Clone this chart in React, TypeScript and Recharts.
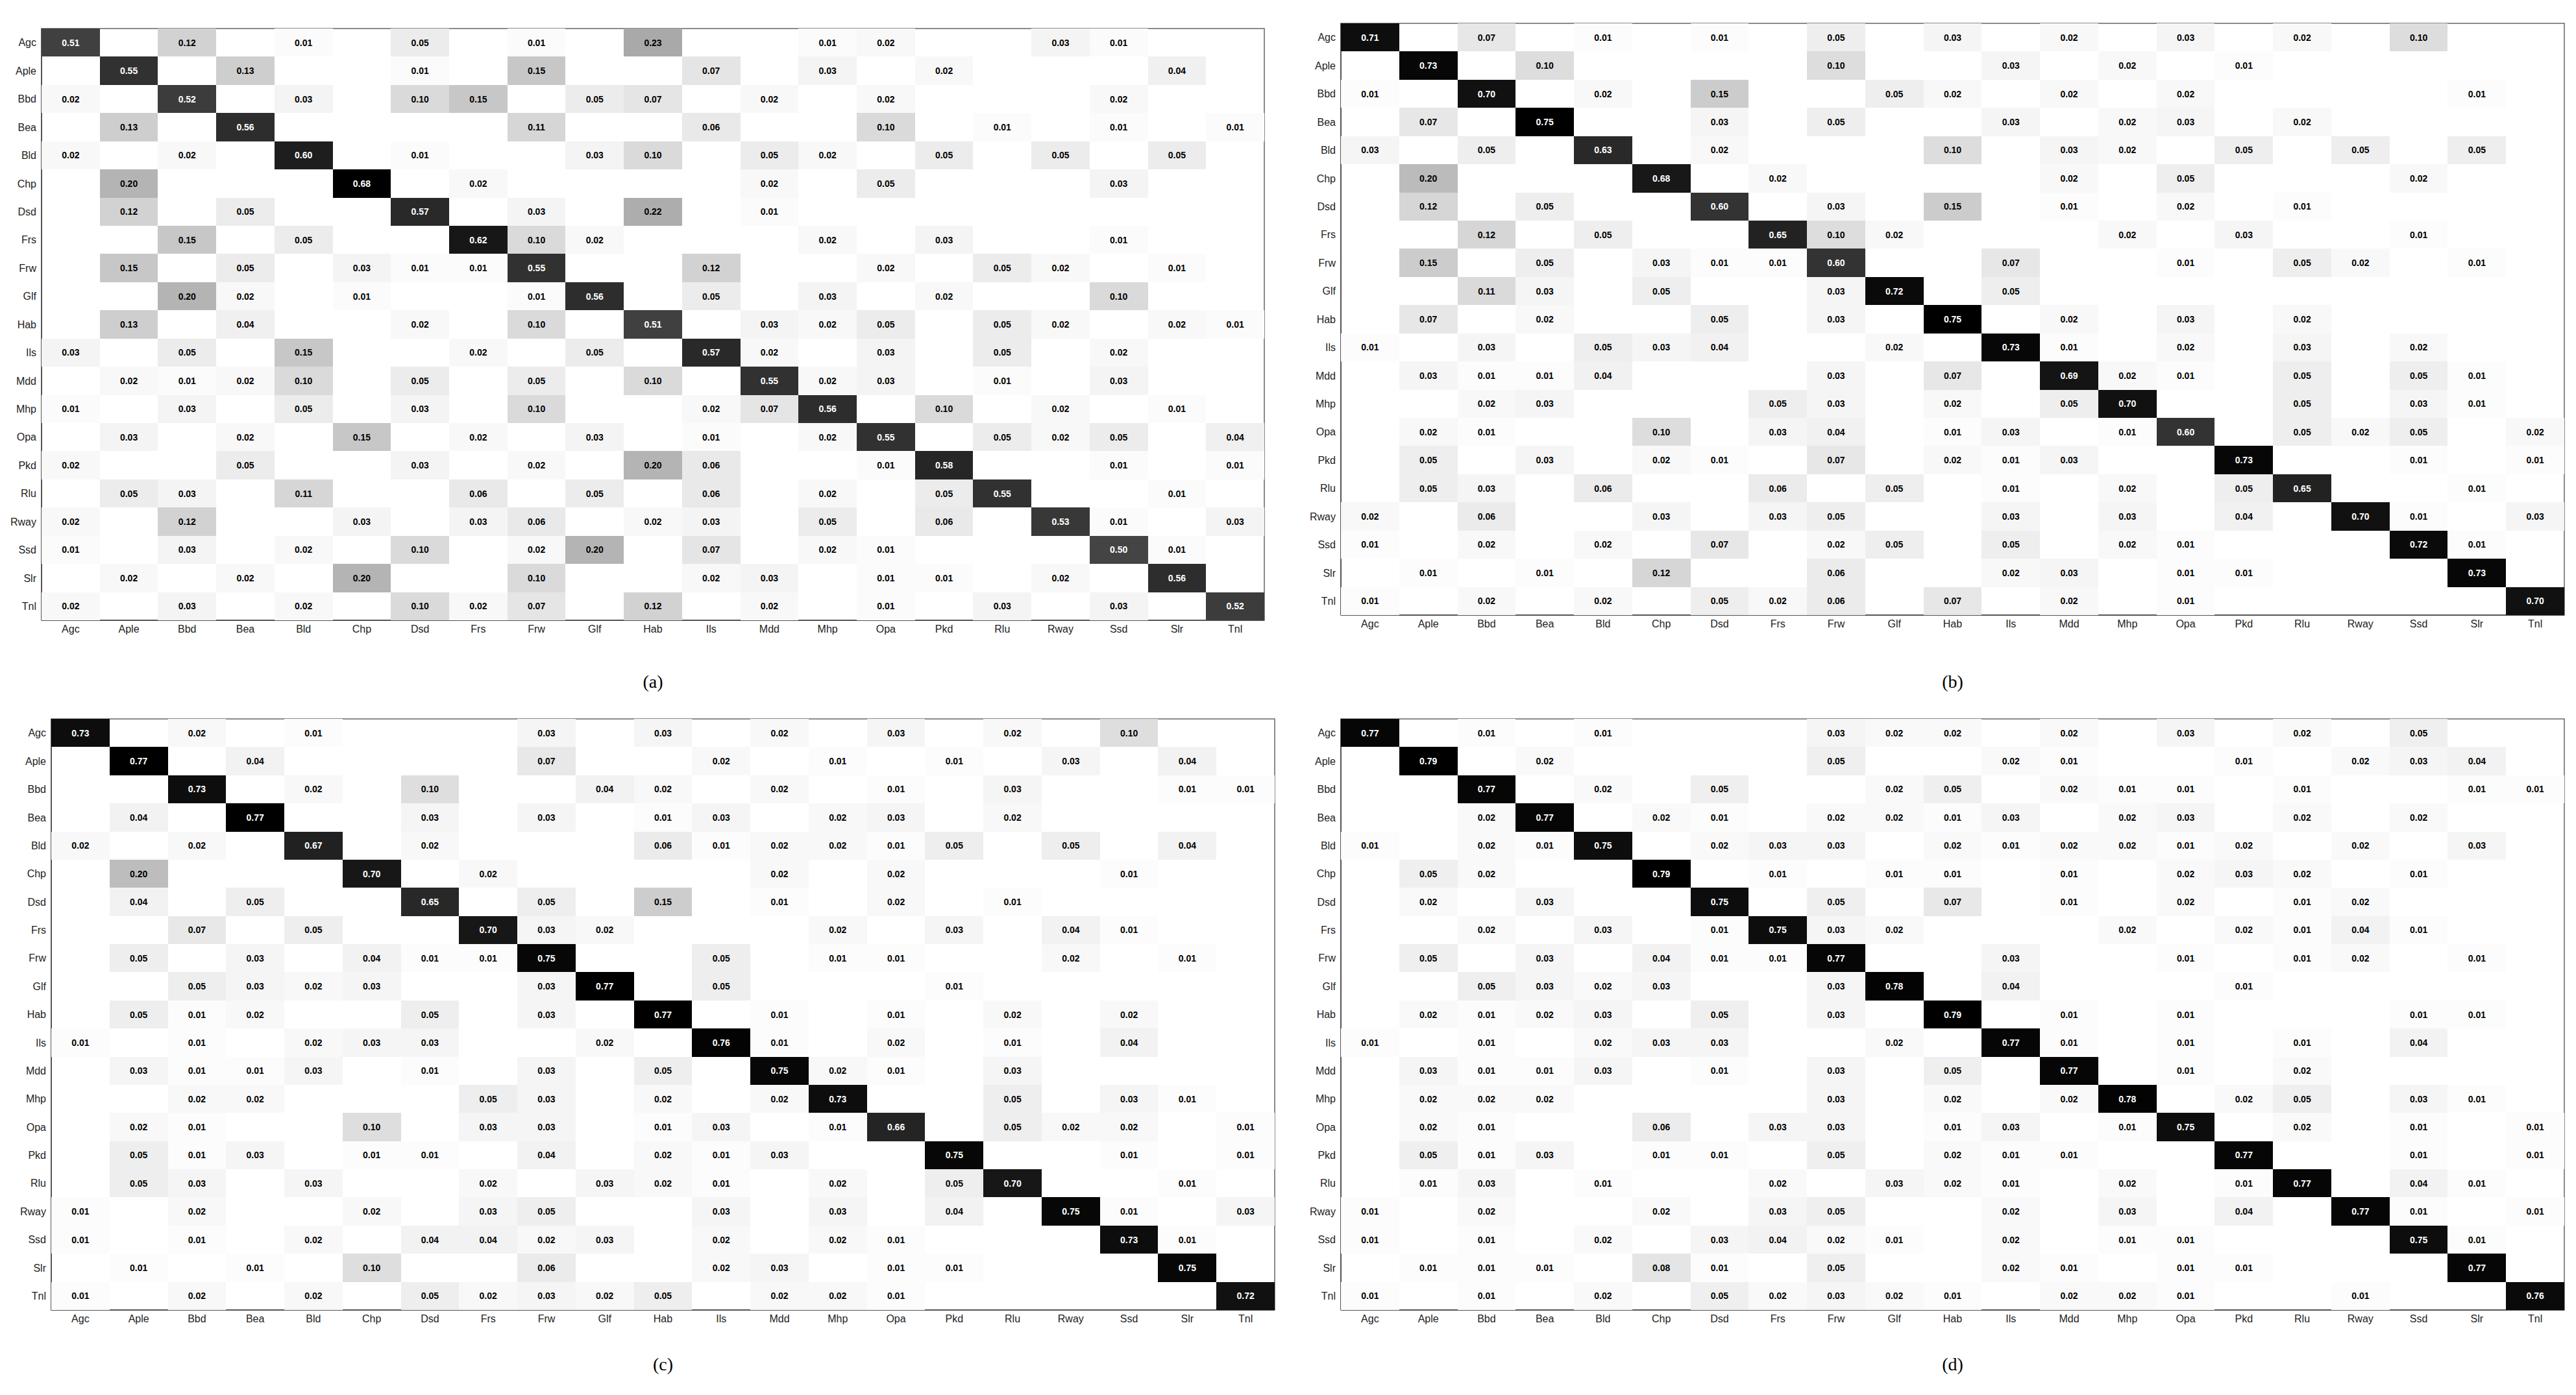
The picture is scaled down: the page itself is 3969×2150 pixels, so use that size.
import React from 'react';
import { ScatterChart, Scatter, XAxis, YAxis, ReferenceArea } from 'recharts';

type Row = [number, number][];

const CATS = ['Agc', 'Aple', 'Bbd', 'Bea', 'Bld', 'Chp', 'Dsd', 'Frs', 'Frw', 'Glf', 'Hab', 'Ils', 'Mdd', 'Mhp', 'Opa', 'Pkd', 'Rlu', 'Rway', 'Ssd', 'Slr', 'Tnl'];
const TICKS = CATS.map((_, i) => i);
const CAPTIONS = ['(a)', '(b)', '(c)', '(d)'];

// each row: [column index, value] pairs (row index = position in array)
const PANEL_A: Row[] = [
  [[0, .51], [2, .12], [4, .01], [6, .05], [8, .01], [10, .23], [13, .01], [14, .02], [17, .03], [18, .01]],
  [[1, .55], [3, .13], [6, .01], [8, .15], [11, .07], [13, .03], [15, .02], [19, .04]],
  [[0, .02], [2, .52], [4, .03], [6, .10], [7, .15], [9, .05], [10, .07], [12, .02], [14, .02], [18, .02]],
  [[1, .13], [3, .56], [8, .11], [11, .06], [14, .10], [16, .01], [18, .01], [20, .01]],
  [[0, .02], [2, .02], [4, .60], [6, .01], [9, .03], [10, .10], [12, .05], [13, .02], [15, .05], [17, .05], [19, .05]],
  [[1, .20], [5, .68], [7, .02], [12, .02], [14, .05], [18, .03]],
  [[1, .12], [3, .05], [6, .57], [8, .03], [10, .22], [12, .01]],
  [[2, .15], [4, .05], [7, .62], [8, .10], [9, .02], [13, .02], [15, .03], [18, .01]],
  [[1, .15], [3, .05], [5, .03], [6, .01], [7, .01], [8, .55], [11, .12], [14, .02], [16, .05], [17, .02], [19, .01]],
  [[2, .20], [3, .02], [5, .01], [8, .01], [9, .56], [11, .05], [13, .03], [15, .02], [18, .10]],
  [[1, .13], [3, .04], [6, .02], [8, .10], [10, .51], [12, .03], [13, .02], [14, .05], [16, .05], [17, .02], [19, .02], [20, .01]],
  [[0, .03], [2, .05], [4, .15], [7, .02], [9, .05], [11, .57], [12, .02], [14, .03], [16, .05], [18, .02]],
  [[1, .02], [2, .01], [3, .02], [4, .10], [6, .05], [8, .05], [10, .10], [12, .55], [13, .02], [14, .03], [16, .01], [18, .03]],
  [[0, .01], [2, .03], [4, .05], [6, .03], [8, .10], [11, .02], [12, .07], [13, .56], [15, .10], [17, .02], [19, .01]],
  [[1, .03], [3, .02], [5, .15], [7, .02], [9, .03], [11, .01], [13, .02], [14, .55], [16, .05], [17, .02], [18, .05], [20, .04]],
  [[0, .02], [3, .05], [6, .03], [8, .02], [10, .20], [11, .06], [14, .01], [15, .58], [18, .01], [20, .01]],
  [[1, .05], [2, .03], [4, .11], [7, .06], [9, .05], [11, .06], [13, .02], [15, .05], [16, .55], [19, .01]],
  [[0, .02], [2, .12], [5, .03], [7, .03], [8, .06], [10, .02], [11, .03], [13, .05], [15, .06], [17, .53], [18, .01], [20, .03]],
  [[0, .01], [2, .03], [4, .02], [6, .10], [8, .02], [9, .20], [11, .07], [13, .02], [14, .01], [18, .50], [19, .01]],
  [[1, .02], [3, .02], [5, .20], [8, .10], [11, .02], [12, .03], [14, .01], [15, .01], [17, .02], [19, .56]],
  [[0, .02], [2, .03], [4, .02], [6, .10], [7, .02], [8, .07], [10, .12], [12, .02], [14, .01], [16, .03], [18, .03], [20, .52]],
];

const PANEL_B: Row[] = [
  [[0, .71], [2, .07], [4, .01], [6, .01], [8, .05], [10, .03], [12, .02], [14, .03], [16, .02], [18, .10]],
  [[1, .73], [3, .10], [8, .10], [11, .03], [13, .02], [15, .01]],
  [[0, .01], [2, .70], [4, .02], [6, .15], [9, .05], [10, .02], [12, .02], [14, .02], [19, .01]],
  [[1, .07], [3, .75], [6, .03], [8, .05], [11, .03], [13, .02], [14, .03], [16, .02]],
  [[0, .03], [2, .05], [4, .63], [6, .02], [10, .10], [12, .03], [13, .02], [15, .05], [17, .05], [19, .05]],
  [[1, .20], [5, .68], [7, .02], [12, .02], [14, .05], [18, .02]],
  [[1, .12], [3, .05], [6, .60], [8, .03], [10, .15], [12, .01], [14, .02], [16, .01]],
  [[2, .12], [4, .05], [7, .65], [8, .10], [9, .02], [13, .02], [15, .03], [18, .01]],
  [[1, .15], [3, .05], [5, .03], [6, .01], [7, .01], [8, .60], [11, .07], [14, .01], [16, .05], [17, .02], [19, .01]],
  [[2, .11], [3, .03], [5, .05], [8, .03], [9, .72], [11, .05]],
  [[1, .07], [3, .02], [6, .05], [8, .03], [10, .75], [12, .02], [14, .03], [16, .02]],
  [[0, .01], [2, .03], [4, .05], [5, .03], [6, .04], [9, .02], [11, .73], [12, .01], [14, .02], [16, .03], [18, .02]],
  [[1, .03], [2, .01], [3, .01], [4, .04], [8, .03], [10, .07], [12, .69], [13, .02], [14, .01], [16, .05], [18, .05], [19, .01]],
  [[2, .02], [3, .03], [7, .05], [8, .03], [10, .02], [12, .05], [13, .70], [16, .05], [18, .03], [19, .01]],
  [[1, .02], [2, .01], [5, .10], [7, .03], [8, .04], [10, .01], [11, .03], [13, .01], [14, .60], [16, .05], [17, .02], [18, .05], [20, .02]],
  [[1, .05], [3, .03], [5, .02], [6, .01], [8, .07], [10, .02], [11, .01], [12, .03], [15, .73], [18, .01], [20, .01]],
  [[1, .05], [2, .03], [4, .06], [7, .06], [9, .05], [11, .01], [13, .02], [15, .05], [16, .65], [19, .01]],
  [[0, .02], [2, .06], [5, .03], [7, .03], [8, .05], [11, .03], [13, .03], [15, .04], [17, .70], [18, .01], [20, .03]],
  [[0, .01], [2, .02], [4, .02], [6, .07], [8, .02], [9, .05], [11, .05], [13, .02], [14, .01], [18, .72], [19, .01]],
  [[1, .01], [3, .01], [5, .12], [8, .06], [11, .02], [12, .03], [14, .01], [15, .01], [19, .73]],
  [[0, .01], [2, .02], [4, .02], [6, .05], [7, .02], [8, .06], [10, .07], [12, .02], [14, .01], [20, .70]],
];

const PANEL_C: Row[] = [
  [[0, .73], [2, .02], [4, .01], [8, .03], [10, .03], [12, .02], [14, .03], [16, .02], [18, .10]],
  [[1, .77], [3, .04], [8, .07], [11, .02], [13, .01], [15, .01], [17, .03], [19, .04]],
  [[2, .73], [4, .02], [6, .10], [9, .04], [10, .02], [12, .02], [14, .01], [16, .03], [19, .01], [20, .01]],
  [[1, .04], [3, .77], [6, .03], [8, .03], [10, .01], [11, .03], [13, .02], [14, .03], [16, .02]],
  [[0, .02], [2, .02], [4, .67], [6, .02], [10, .06], [11, .01], [12, .02], [13, .02], [14, .01], [15, .05], [17, .05], [19, .04]],
  [[1, .20], [5, .70], [7, .02], [12, .02], [14, .02], [18, .01]],
  [[1, .04], [3, .05], [6, .65], [8, .05], [10, .15], [12, .01], [14, .02], [16, .01]],
  [[2, .07], [4, .05], [7, .70], [8, .03], [9, .02], [13, .02], [15, .03], [17, .04], [18, .01]],
  [[1, .05], [3, .03], [5, .04], [6, .01], [7, .01], [8, .75], [11, .05], [13, .01], [14, .01], [17, .02], [19, .01]],
  [[2, .05], [3, .03], [4, .02], [5, .03], [8, .03], [9, .77], [11, .05], [15, .01]],
  [[1, .05], [2, .01], [3, .02], [6, .05], [8, .03], [10, .77], [12, .01], [14, .01], [16, .02], [18, .02]],
  [[0, .01], [2, .01], [4, .02], [5, .03], [6, .03], [9, .02], [11, .76], [12, .01], [14, .02], [16, .01], [18, .04]],
  [[1, .03], [2, .01], [3, .01], [4, .03], [6, .01], [8, .03], [10, .05], [12, .75], [13, .02], [14, .01], [16, .03]],
  [[2, .02], [3, .02], [7, .05], [8, .03], [10, .02], [12, .02], [13, .73], [16, .05], [18, .03], [19, .01]],
  [[1, .02], [2, .01], [5, .10], [7, .03], [8, .03], [10, .01], [11, .03], [13, .01], [14, .66], [16, .05], [17, .02], [18, .02], [20, .01]],
  [[1, .05], [2, .01], [3, .03], [5, .01], [6, .01], [8, .04], [10, .02], [11, .01], [12, .03], [15, .75], [18, .01], [20, .01]],
  [[1, .05], [2, .03], [4, .03], [7, .02], [9, .03], [10, .02], [11, .01], [13, .02], [15, .05], [16, .70], [19, .01]],
  [[0, .01], [2, .02], [5, .02], [7, .03], [8, .05], [11, .03], [13, .03], [15, .04], [17, .75], [18, .01], [20, .03]],
  [[0, .01], [2, .01], [4, .02], [6, .04], [7, .04], [8, .02], [9, .03], [11, .02], [13, .02], [14, .01], [18, .73], [19, .01]],
  [[1, .01], [3, .01], [5, .10], [8, .06], [11, .02], [12, .03], [14, .01], [15, .01], [19, .75]],
  [[0, .01], [2, .02], [4, .02], [6, .05], [7, .02], [8, .03], [9, .02], [10, .05], [12, .02], [13, .02], [14, .01], [20, .72]],
];

const PANEL_D: Row[] = [
  [[0, .77], [2, .01], [4, .01], [8, .03], [9, .02], [10, .02], [12, .02], [14, .03], [16, .02], [18, .05]],
  [[1, .79], [3, .02], [8, .05], [11, .02], [12, .01], [15, .01], [17, .02], [18, .03], [19, .04]],
  [[2, .77], [4, .02], [6, .05], [9, .02], [10, .05], [12, .02], [13, .01], [14, .01], [16, .01], [19, .01], [20, .01]],
  [[2, .02], [3, .77], [5, .02], [6, .01], [8, .02], [9, .02], [10, .01], [11, .03], [13, .02], [14, .03], [16, .02], [18, .02]],
  [[0, .01], [2, .02], [3, .01], [4, .75], [6, .02], [7, .03], [8, .03], [10, .02], [11, .01], [12, .02], [13, .02], [14, .01], [15, .02], [17, .02], [19, .03]],
  [[1, .05], [2, .02], [5, .79], [7, .01], [9, .01], [10, .01], [12, .01], [14, .02], [15, .03], [16, .02], [18, .01]],
  [[1, .02], [3, .03], [6, .75], [8, .05], [10, .07], [12, .01], [14, .02], [16, .01], [17, .02]],
  [[2, .02], [4, .03], [6, .01], [7, .75], [8, .03], [9, .02], [13, .02], [15, .02], [16, .01], [17, .04], [18, .01]],
  [[1, .05], [3, .03], [5, .04], [6, .01], [7, .01], [8, .77], [11, .03], [14, .01], [16, .01], [17, .02], [19, .01]],
  [[2, .05], [3, .03], [4, .02], [5, .03], [8, .03], [9, .78], [11, .04], [15, .01]],
  [[1, .02], [2, .01], [3, .02], [4, .03], [6, .05], [8, .03], [10, .79], [12, .01], [14, .01], [18, .01], [19, .01]],
  [[0, .01], [2, .01], [4, .02], [5, .03], [6, .03], [9, .02], [11, .77], [12, .01], [14, .01], [16, .01], [18, .04]],
  [[1, .03], [2, .01], [3, .01], [4, .03], [6, .01], [8, .03], [10, .05], [12, .77], [14, .01], [16, .02]],
  [[1, .02], [2, .02], [3, .02], [8, .03], [10, .02], [12, .02], [13, .78], [15, .02], [16, .05], [18, .03], [19, .01]],
  [[1, .02], [2, .01], [5, .06], [7, .03], [8, .03], [10, .01], [11, .03], [13, .01], [14, .75], [16, .02], [18, .01], [20, .01]],
  [[1, .05], [2, .01], [3, .03], [5, .01], [6, .01], [8, .05], [10, .02], [11, .01], [12, .01], [15, .77], [18, .01], [20, .01]],
  [[1, .01], [2, .03], [4, .01], [7, .02], [9, .03], [10, .02], [11, .01], [13, .02], [15, .01], [16, .77], [18, .04], [19, .01]],
  [[0, .01], [2, .02], [5, .02], [7, .03], [8, .05], [11, .02], [13, .03], [15, .04], [17, .77], [18, .01], [20, .01]],
  [[0, .01], [2, .01], [4, .02], [6, .03], [7, .04], [8, .02], [9, .01], [11, .02], [13, .01], [14, .01], [18, .75], [19, .01]],
  [[1, .01], [2, .01], [3, .01], [5, .08], [6, .01], [8, .05], [11, .02], [12, .01], [14, .01], [15, .01], [19, .77]],
  [[0, .01], [2, .01], [4, .02], [6, .05], [7, .02], [8, .03], [9, .02], [10, .01], [12, .02], [13, .02], [14, .01], [17, .01], [20, .76]],
];

const PANELS = [PANEL_A, PANEL_B, PANEL_C, PANEL_D];

const Y_W = 60;
const X_H = 30;

interface Layout {
  left: number;
  top: number;
  width: number;
  height: number;
  margin: { top: number; right: number; bottom: number; left: number };
  captionTop: number;
}

const LAYOUTS: Layout[] = [
  { left: 0, top: 0, width: 1960, height: 1000, margin: { top: 44, right: 12, bottom: 14, left: 4 }, captionTop: 1033 },
  { left: 2000, top: 0, width: 1960, height: 1000, margin: { top: 36, right: 9, bottom: 22, left: 6 }, captionTop: 1033 },
  { left: 0, top: 1060, width: 1970, height: 1000, margin: { top: 48, right: 6, bottom: 11, left: 19 }, captionTop: 2085 },
  { left: 2000, top: 1060, width: 1960, height: 1000, margin: { top: 48, right: 9, bottom: 11, left: 6 }, captionTop: 2085 },
];

const FONT = '"Liberation Sans", Arial, sans-serif';

function Matrix({ rows, layout, caption }: { rows: Row[]; layout: Layout; caption: string }) {
  const data = rows.flatMap((row, r) => row.map(([c, v]) => ({ x: c, y: r, v })));
  const max = Math.max(...data.map((d) => d.v));
  const m = layout.margin;
  const plotW = layout.width - m.left - m.right - Y_W;
  const plotH = layout.height - m.top - m.bottom - X_H;
  const cw = plotW / CATS.length;
  const ch = plotH / CATS.length;
  const plotCenter = m.left + Y_W + plotW / 2;

  const shape = (p: any) => {
    const v = p.payload.v as number;
    const g = 1 - v / max;
    const lvl = Math.round(g * 255);
    return (
      <g>
        <rect
          x={p.cx - cw / 2}
          y={p.cy - ch / 2}
          width={cw}
          height={ch}
          fill={`rgb(${lvl},${lvl},${lvl})`}
          shapeRendering="crispEdges"
        />
        <text
          x={p.cx}
          y={p.cy}
          dy="0.36em"
          textAnchor="middle"
          fontSize={14}
          fontWeight="bold"
          fontFamily={FONT}
          fill={g < 0.5 ? '#ffffff' : '#000000'}
        >
          {v.toFixed(2)}
        </text>
      </g>
    );
  };

  return (
    <>
      <div style={{ position: 'absolute', left: layout.left, top: layout.top }}>
        <ScatterChart width={layout.width} height={layout.height} margin={m}>
          <XAxis
            type="number"
            dataKey="x"
            domain={[-0.5, 20.5]}
            ticks={TICKS}
            interval={0}
            tickFormatter={(i: number) => CATS[i]}
            tickLine={false}
            tickSize={6}
            axisLine={{ stroke: '#555', strokeWidth: 2 }}
            height={X_H}
            tick={{ fontSize: 16, fill: '#222', fontFamily: FONT }}
            allowDataOverflow
          />
          <YAxis
            type="number"
            dataKey="y"
            domain={[-0.5, 20.5]}
            reversed
            ticks={TICKS}
            interval={0}
            tickFormatter={(i: number) => CATS[i]}
            tickLine={false}
            tickSize={6}
            axisLine={{ stroke: '#555', strokeWidth: 2 }}
            width={Y_W}
            tick={{ fontSize: 16, fill: '#222', fontFamily: FONT }}
            allowDataOverflow
          />
          <Scatter data={data} shape={shape} isAnimationActive={false} />
          <ReferenceArea x1={-0.5} x2={20.5} y1={-0.5} y2={20.5} fill="none" stroke="#666" strokeWidth={1.5} />
        </ScatterChart>
      </div>
      <div
        style={{
          position: 'absolute',
          left: layout.left + plotCenter - 100,
          top: layout.captionTop,
          width: 200,
          textAlign: 'center',
          fontFamily: '"Liberation Serif", "Times New Roman", serif',
          fontSize: 28,
          lineHeight: '36px',
          color: '#000',
        }}
      >
        {caption}
      </div>
    </>
  );
}

export default function App() {
  return (
    <div style={{ position: 'absolute', left: 0, top: 0, width: 3969, height: 2150, background: '#ffffff', overflow: 'hidden' }}>
      {PANELS.map((rows, i) => (
        <Matrix key={i} rows={rows} layout={LAYOUTS[i]} caption={CAPTIONS[i]} />
      ))}
    </div>
  );
}
